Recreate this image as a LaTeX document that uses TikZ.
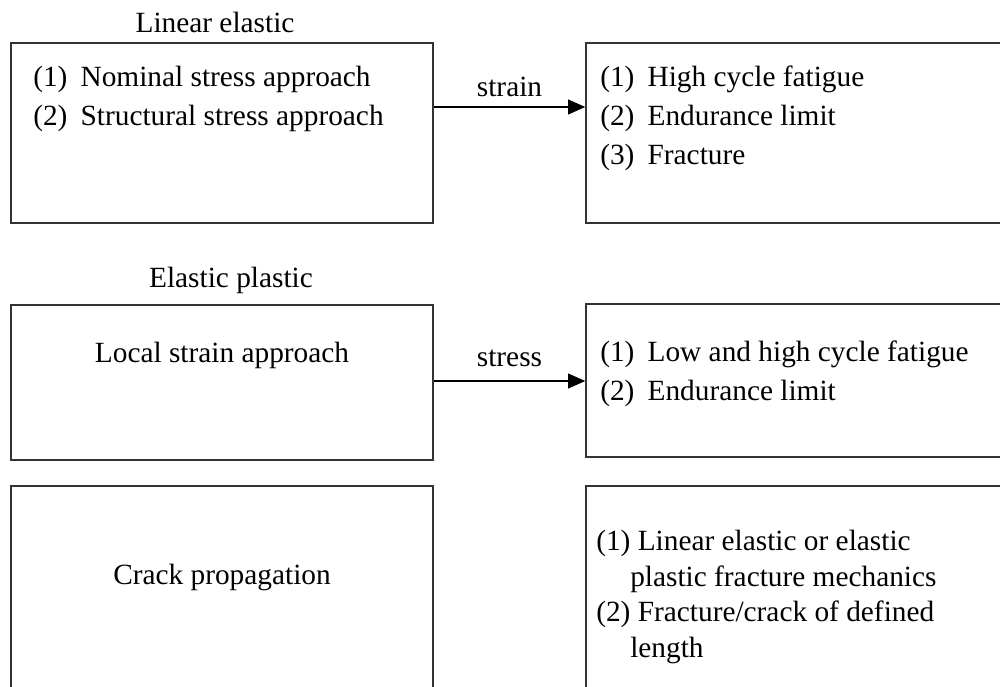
\documentclass[tikz,border=0pt]{standalone}
\usepackage{fontspec}
\setmainfont{Liberation Serif}
\usetikzlibrary{arrows.meta,fit}

\tikzset{
  box/.style={draw=black!80, line width=1pt, inner sep=0pt},
  txt/.style={font=\fontsize{22}{26}\selectfont, inner sep=0pt},
  flow/.style={-{Triangle[length=13pt,width=11pt]}, line width=1.8pt},
}

\begin{document}
\begin{tikzpicture}[x=0.75pt, y=-0.75pt]
                    \clip (0,0) rectangle (1000,686);

                    % linear elastic
                    \node[txt] (hdlin) at (215,22) {Linear elastic};
                    \node[box, fit={(11,43) (433,223)}] (nom) {};
                    \node[box, fit={(586,43) (1010,223)}] (hcf) {};

                    \node[txt, anchor=base west] (nom1) at (33,86) {(1)\hspace{0.45em}Nominal stress approach};
                    \node[txt, anchor=base west] (nom2) at (33,125) {(2)\hspace{0.45em}Structural stress approach};

                    \node[txt, anchor=base west] (hcf1) at (600,86) {(1)\hspace{0.45em}High cycle fatigue};
                    \node[txt, anchor=base west] (hcf2) at (600,125) {(2)\hspace{0.45em}Endurance limit};
                    \node[txt, anchor=base west] (hcf3) at (600,164) {(3)\hspace{0.45em}Fracture};

                    \coordinate (ya) at (0,107);
                    \draw[flow] (nom.east |- ya) -- (hcf.west |- ya)
                        node[txt, midway, above=7pt] (lbla) {strain};

                    % elastic plastic
                    \node[txt] (hdpl) at (231,280) {Elastic plastic};
                    \node[box, fit={(11,305) (433,460)}] (lsa) {};
                    \node[box, fit={(586,304) (1010,457)}] (lcf) {};

                    \node[txt] (lsa1) at (222,355) {Local strain approach};

                    \node[txt, anchor=base west] (lcf1) at (600,361) {(1)\hspace{0.45em}Low and high cycle fatigue};
                    \node[txt, anchor=base west] (lcf2) at (600,400) {(2)\hspace{0.45em}Endurance limit};

                    \coordinate (yb) at (0,381);
                    \draw[flow] (lsa.east |- yb) -- (lcf.west |- yb)
                        node[txt, midway, above=10pt] (lblb) {stress};

                    % crack propagation
                    \node[box, fit={(11,486) (433,700)}] (crk) {};
                    \node[box, fit={(586,486) (1010,700)}] (frm) {};

                    \node[txt] (crk1) at (222,577) {Crack propagation};

                    \node[txt, anchor=base west] (frm1) at (596,550) {(1) Linear elastic or elastic};
                    \node[txt, anchor=base west] (frm2) at (630,586) {plastic fracture mechanics};
                    \node[txt, anchor=base west] (frm3) at (596,621) {(2) Fracture/crack of defined};
                    \node[txt, anchor=base west] (frm4) at (630,657) {length};

                \end{tikzpicture}
\end{document}
